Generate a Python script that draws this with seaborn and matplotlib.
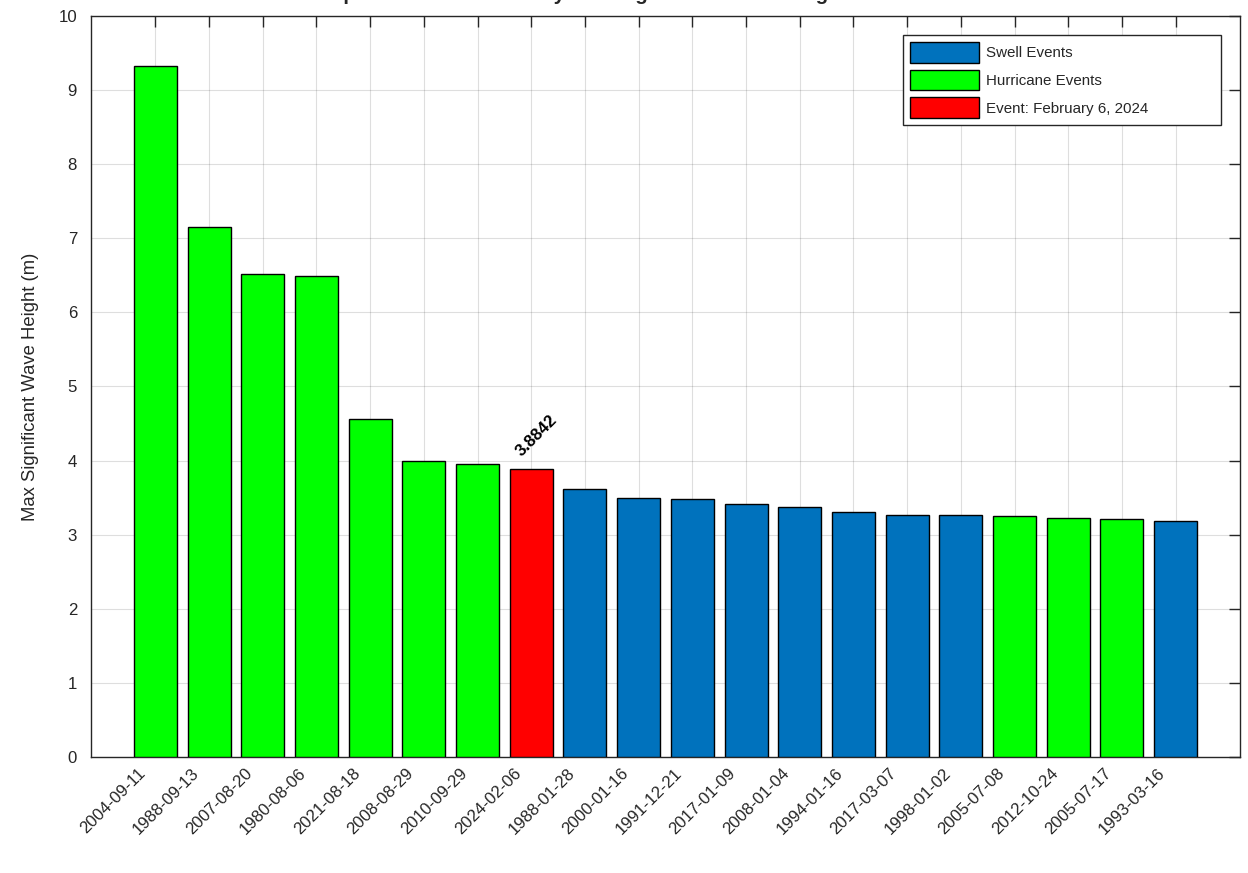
import numpy as np
import pandas as pd
import matplotlib.pyplot as plt
from matplotlib.patches import Patch
from matplotlib.transforms import ScaledTranslation
import seaborn as sns

# Top 20 events, ranked by max significant wave height
event_dates = [
    "2004-09-11", "1988-09-13", "2007-08-20", "1980-08-06", "2021-08-18",
    "2008-08-29", "2010-09-29", "2024-02-06", "1988-01-28", "2000-01-16",
    "1991-12-21", "2017-01-09", "2008-01-04", "1994-01-16", "2017-03-07",
    "1998-01-02", "2005-07-08", "2012-10-24", "2005-07-17", "1993-03-16",
]
max_hs = [
    9.33, 7.15, 6.52, 6.49, 4.56,
    3.99, 3.96, 3.8842, 3.62, 3.49,
    3.48, 3.41, 3.38, 3.30, 3.26,
    3.26, 3.25, 3.23, 3.21, 3.19,
]
event_types = [
    "Hurricane Events", "Hurricane Events", "Hurricane Events", "Hurricane Events", "Hurricane Events",
    "Hurricane Events", "Hurricane Events", "Event: February 6, 2024", "Swell Events", "Swell Events",
    "Swell Events", "Swell Events", "Swell Events", "Swell Events", "Swell Events",
    "Swell Events", "Hurricane Events", "Hurricane Events", "Hurricane Events", "Swell Events",
]
type_order = ["Swell Events", "Hurricane Events", "Event: February 6, 2024"]
type_colors = ["#0072BD", "#00FF00", "#FF0000"]
highlight_date = "2024-02-06"
title = "Top 20 Events Ranked by Max Significant Wave Height"

df = pd.DataFrame({"date": event_dates, "hs": max_hs, "type": event_types})
palette = dict(zip(type_order, type_colors))

sns.set_style("white")
plt.rcParams["font.family"] = ["Liberation Sans", "DejaVu Sans"]
axis_grey = "#262626"

fig = plt.figure(figsize=(12.48, 8.73), dpi=100)
ax = fig.add_axes([0.0729, 0.1329, 0.9207, 0.8488])

sns.barplot(
    data=df, x="date", y="hs", hue="type", hue_order=type_order,
    palette=palette, saturation=1, dodge=False, width=0.8, edgecolor="black",
    linewidth=1.0, legend=False, ax=ax, zorder=3,
)

ax.set_xlim(-1.2, len(df) + 0.2)
ax.set_ylim(0, 10)
ax.set_yticks(range(0, 11))
ax.grid(True, color=axis_grey, alpha=0.15, linewidth=0.8, zorder=0)
ax.set_axisbelow(True)

for s in ax.spines.values():
    s.set_color(axis_grey)
    s.set_linewidth(1.0)
ax.tick_params(axis="both", direction="in", length=8, width=1.0, color=axis_grey,
               labelcolor=axis_grey, labelsize=12.1, top=True, right=True)
ax.tick_params(axis="y", pad=10)
ax.tick_params(axis="x", pad=6)
shift = ScaledTranslation(-0.18, 0, fig.dpi_scale_trans)
for lbl in ax.get_xticklabels():
    lbl.set_rotation(45)
    lbl.set_ha("right")
    lbl.set_rotation_mode("anchor")
    lbl.set_transform(lbl.get_transform() + shift)

ax.set_xlabel("")
ax.set_ylabel("Max Significant Wave Height (m)", fontsize=13.3, color=axis_grey, labelpad=14)

# label on the highlighted event
i = event_dates.index(highlight_date)
ax.text(i - 0.18, max_hs[i] + 0.17, f"{max_hs[i]:.4f}", rotation=45, rotation_mode="anchor",
        ha="left", va="baseline", fontsize=12.1, fontweight="bold", color="black")

handles = [Patch(facecolor=palette[t], edgecolor="black", linewidth=1.0, label=t) for t in type_order]
leg = ax.legend(
    handles=handles, loc="upper left", bbox_to_anchor=(0.7067, 0.0, 0.2768, 0.9744),
    mode="expand", borderaxespad=0, fontsize=10.9, handlelength=4.6, handleheight=1.75,
    handletextpad=0.45, labelspacing=0.45, borderpad=0.45, fancybox=False, framealpha=1,
)
leg.get_frame().set_edgecolor(axis_grey)
leg.get_frame().set_linewidth(1.0)

fig.text(320 / 1248, 1.0, title, ha="left", va="baseline", fontsize=14.7, fontweight="bold")

fig.savefig("out.png", dpi=100)
plt.close(fig)
